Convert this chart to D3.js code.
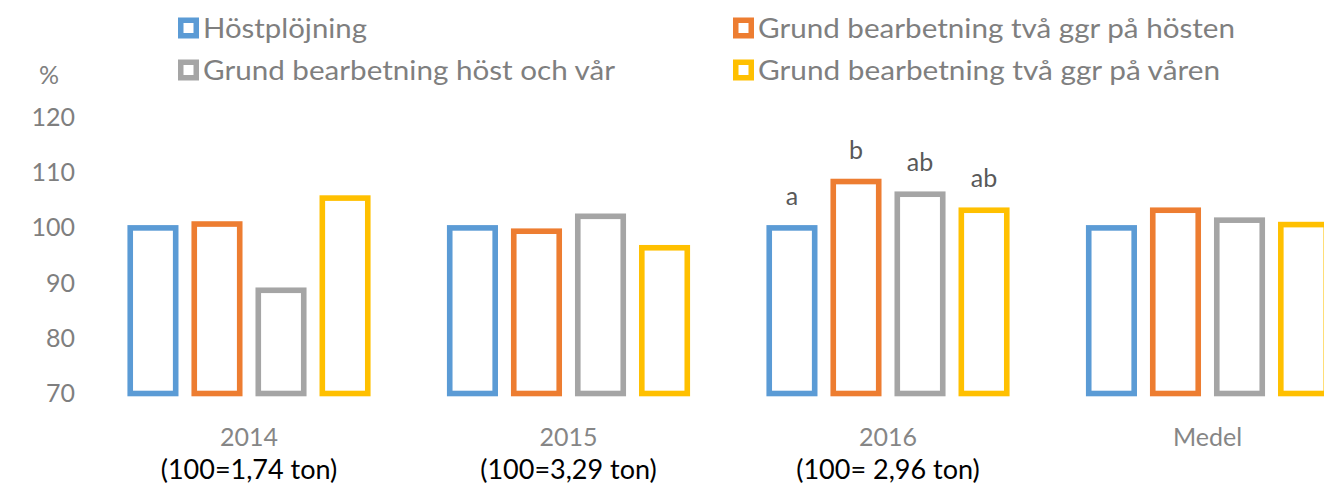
<!DOCTYPE html>
<html>
<head>
<meta charset="utf-8">
<script src="https://cdn.jsdelivr.net/npm/d3@7"></script>
<style>
  body { margin: 0; background: #fff; }
  svg text { font-family: Lato, "Open Sans", sans-serif; }
</style>
</head>
<body>
<script>
// Data
var categories = ["2014", "2015", "2016", "Medel"];
var baseLabels = ["(100=1,74 ton)", "(100=3,29 ton)", "(100= 2,96 ton)", ""];
var seriesNames = ["Höstplöjning", "Grund bearbetning två ggr på hösten",
                   "Grund bearbetning höst och vår", "Grund bearbetning två ggr på våren"];
var hostplojning = [100, 100, 100, 100];
var tvaHosten = [100.7, 99.4, 108.4, 103.2];
var hostVar = [88.7, 102.1, 106.1, 101.4];
var tvaVaren = [105.4, 96.4, 103.2, 100.6];
var letters2016 = ["a", "b", "ab", "ab"];
var yTicks = [70, 80, 90, 100, 110, 120];
var colors = ["#5B9BD5", "#ED7D31", "#A5A5A5", "#FFC000"];

var series = [hostplojning, tvaHosten, hostVar, tvaVaren];

var width = 1324;
var height = 485;

var svg = d3.select("body")
            .append("svg")
            .attr("width", width)
            .attr("height", height);

// Scales
var x0 = d3.scaleBand()
           .domain(categories)
           .range([89.25, 89.25 + 319.5 * 4])
           .padding(0);

var x1 = d3.scaleBand()
           .domain(d3.range(4))
           .range([0, x0.bandwidth()])
           .paddingInner(0.29)
           .paddingOuter(0.64);

var y = d3.scaleLinear()
          .domain([70, 120])
          .range([393.5, 117.5]);

// Y axis labels (no line)
var yAxis = d3.axisLeft(y).tickValues(yTicks).tickSize(0).tickPadding(0);
var gy = svg.append("g")
   .attr("transform", "translate(75,0)")
   .call(yAxis);
gy.select(".domain").remove();
gy.selectAll("text")
  .attr("font-size", "25px")
  .attr("fill", "#7f7f7f")
  .style("font-family", "Lato, sans-serif");

svg.append("text")
   .attr("x", 49)
   .attr("y", 84)
   .attr("text-anchor", "middle")
   .attr("font-size", "25px")
   .attr("fill", "#7f7f7f")
   .text("%");

// Bars
var sw = 5.6;
categories.forEach(function(cat, ci) {
  var g = svg.append("g").attr("transform", "translate(" + x0(cat) + ",0)");
  g.selectAll("rect")
   .data(series.map(function(s, si) { return { si: si, v: s[ci] }; }))
   .enter()
   .append("rect")
   .attr("x", function(d) { return x1(d.si); })
   .attr("width", x1.bandwidth())
   .attr("y", function(d) { return y(d.v); })
   .attr("height", function(d) { return y(70) - y(d.v); })
   .attr("fill", "none")
   .attr("stroke", function(d) { return colors[d.si]; })
   .attr("stroke-width", sw);
});

// Significance letters for 2016
svg.append("g")
   .selectAll("text")
   .data(letters2016)
   .enter()
   .append("text")
   .attr("x", function(d, i) { return x0("2016") + x1(i) + x1.bandwidth() / 2; })
   .attr("y", function(d, i) { return y(series[i][2]) - 23; })
   .attr("text-anchor", "middle")
   .attr("font-size", "25px")
   .attr("fill", "#595959")
   .text(function(d) { return d; });

// Category labels
svg.append("g")
   .selectAll("text")
   .data(categories)
   .enter()
   .append("text")
   .attr("x", function(d) { return x0(d) + x0.bandwidth() / 2; })
   .attr("y", 446)
   .attr("text-anchor", "middle")
   .attr("font-size", "25px")
   .attr("fill", "#868686")
   .text(function(d) { return d; });

svg.append("g")
   .selectAll("text")
   .data(baseLabels)
   .enter()
   .append("text")
   .attr("x", function(d, i) { return x0(categories[i]) + x0.bandwidth() / 2; })
   .attr("y", 479)
   .attr("text-anchor", "middle")
   .attr("font-size", "27px")
   .attr("fill", "#000")
   .style("font-family", "'Liberation Sans Narrow', Lato, sans-serif")
   .text(function(d) { return d; });

// Legend
var legendPos = [[178, 28], [733, 28], [178, 70], [733, 70]];
var legendEnd = [367, 1235, 615, 1220];
var legend = svg.append("g");
seriesNames.forEach(function(name, i) {
  var p = legendPos[i];
  legend.append("rect")
        .attr("x", p[0] + 2.75)
        .attr("y", p[1] - 7.75)
        .attr("width", 15.5)
        .attr("height", 15.5)
        .attr("fill", "#fff")
        .attr("stroke", colors[i])
        .attr("stroke-width", 5.5);
  legend.append("text")
        .attr("x", p[0] + 25)
        .attr("y", p[1] + 10)
        .attr("font-size", "27px")
        .attr("fill", "#7f7f7f")
        .attr("textLength", legendEnd[i] - p[0] - 25)
        .attr("lengthAdjust", "spacingAndGlyphs")
        .text(name);
});
</script>
</body>
</html>
